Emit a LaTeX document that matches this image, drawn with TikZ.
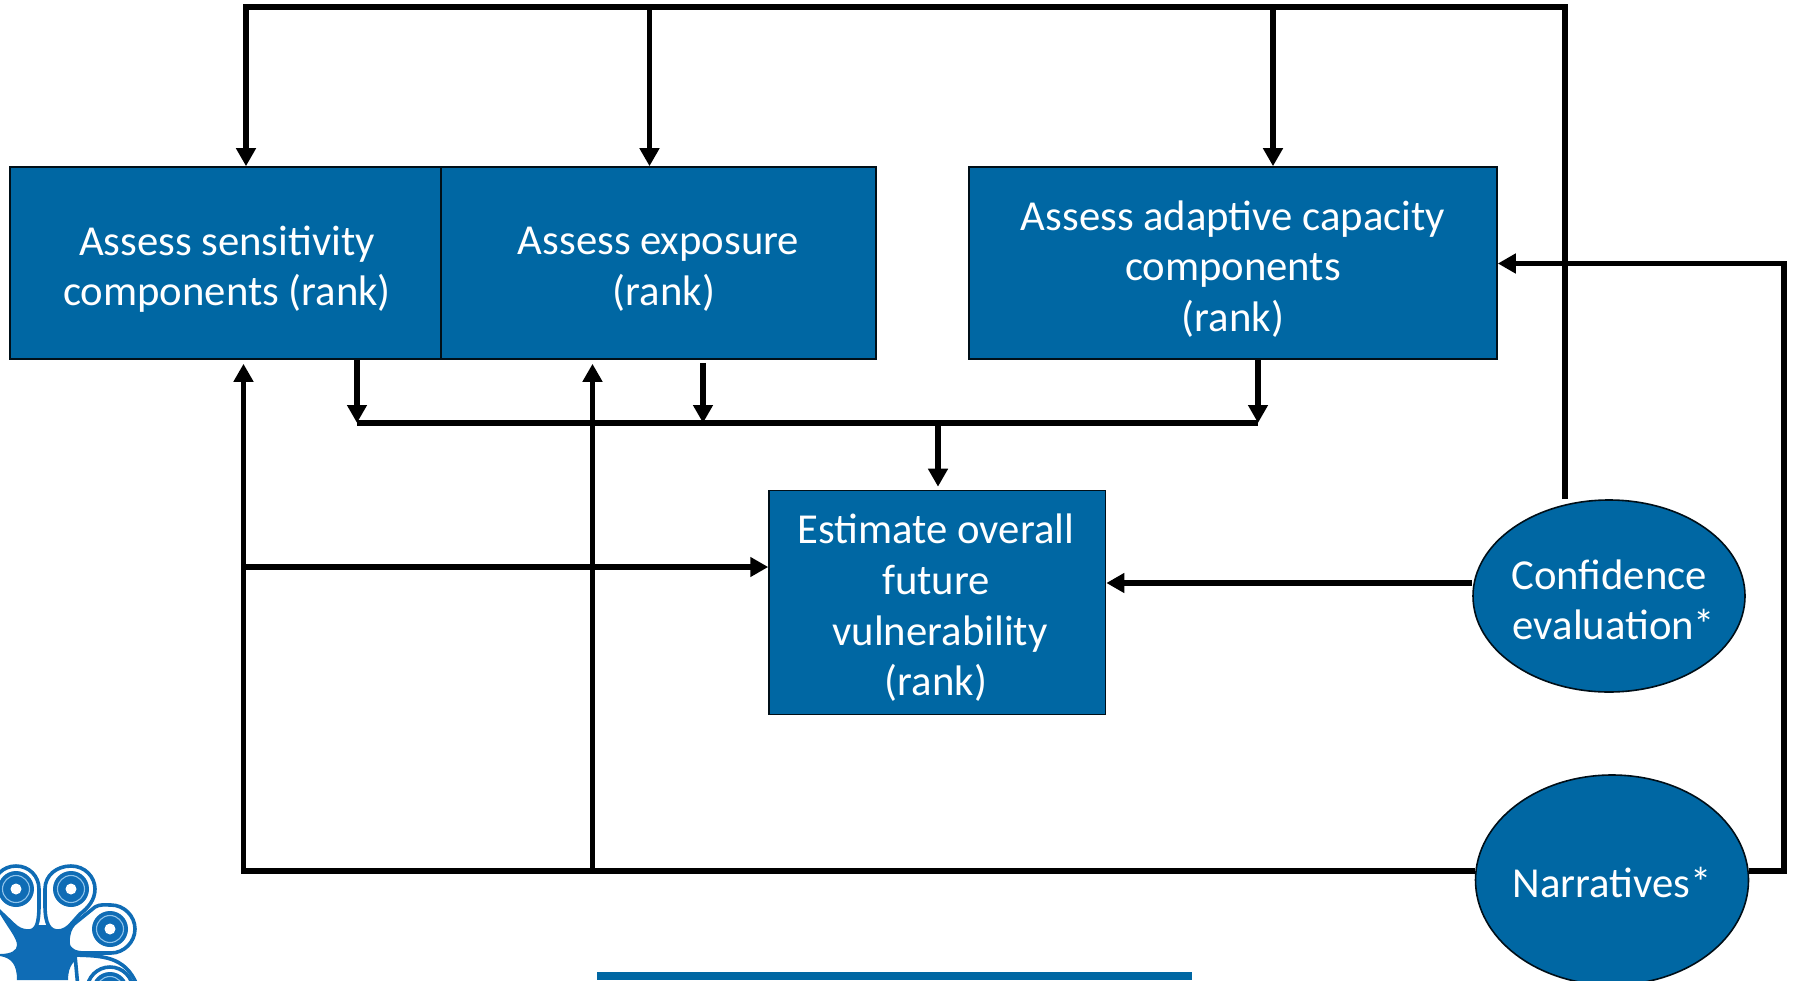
\documentclass[tikz,border=0pt]{standalone}
\usepackage{fontspec}
\setmainfont{Carlito}
\usetikzlibrary{arrows.meta,shapes.geometric}
\definecolor{boxblue}{HTML}{0067A3}
\definecolor{logoblue}{HTML}{0F6CB5}
\definecolor{logolight}{HTML}{8FC3EA}
\tikzset{
  x=1pt,y=-1pt,
  boxbase/.style={draw=black!85!boxblue,line width=1.6pt,fill=boxblue,inner sep=0pt},
  rectbox/.style={boxbase,rectangle},
  ellbox/.style={boxbase,ellipse},
  lbl/.style={text=white,align=center,font=\fontsize{42.7}{50.6}\selectfont},
  wire/.style={line width=5.6pt,draw=black,line cap=butt,line join=miter},
  arr/.style={wire,-{Triangle[length=18pt,width=19pt]}},
  tear/.style={draw=logoblue,line width=3.6pt,fill=white},
}
\newcommand{\logospiral}[2]{%
  \fill[logoblue] (#1,#2) circle[radius=18];
  \draw[logolight,line width=1.1pt] (#1,#2) circle[radius=13.5];
  \fill[white] (#1,#2) circle[radius=5.5];
}
\begin{document}
\begin{tikzpicture}
\path[use as bounding box] (0,0) rectangle (1793,980);
\clip (0,0) rectangle (1793,980);
\fill[white] (0,0) rectangle (1793,980);

% boxes
\node[rectbox,minimum width=431.5pt,minimum height=192pt] (sens) at (226,263) {};
\node[rectbox,minimum width=435pt,minimum height=192pt] (expo) at (658.5,263) {};
\node[rectbox,minimum width=528pt,minimum height=192pt] (adap) at (1233,263) {};
\node[rectbox,minimum width=336.5pt,minimum height=224pt] (esti) at (937.3,602.5) {};
\node[ellbox,minimum width=272pt,minimum height=192pt] (conf) at (1609,596) {};
\node[ellbox,minimum width=273pt,minimum height=210pt] (narr) at (1612,880) {};
% labels
\node[lbl] (senst) at (227,269) {Assess sensitivity\\components (rank)};
\node[lbl] (expot) at (664,269.5) {\hspace*{-11pt}Assess exposure\\(rank)};
\node[lbl] (adapt) at (1233,269) {Assess adaptive capacity\\components\\(rank)};
\node[lbl] (estit) at (936,608) {Estimate overall\\future\\\hspace*{8pt}vulnerability\\(rank)};
\node[lbl] (conft) at (1609,600) {Confidence\\\hspace*{10pt}evaluation*};
\node[lbl] (narrt) at (1612,882) {Narratives*};

% junctions
\coordinate (tl) at (246,7);
\coordinate (tm) at (649.5,7);
\coordinate (ta) at (1273,7);
\coordinate (tr) at (1565,7);
\coordinate (rb) at (1784,871);
\coordinate (rt) at (1784,263.5);
\coordinate (bl) at (243.5,871);
\coordinate (bm) at (592.5,871);
\coordinate (hl) at (357,423);
\coordinate (hm) at (703,423);
\coordinate (hr) at (1258,423);
\coordinate (hc) at (938,423);
\coordinate (bj) at (243.5,567);

% top feedback
\draw[wire] (tr |- conf.north) -- (tr) -- (tl);
\draw[arr] ([yshift=2.8pt]tl) -- (tl |- sens.north);
\draw[arr] (tm) -- (tm |- expo.north);
\draw[arr] (ta) -- (ta |- adap.north);

% narratives to adaptive capacity
\draw[wire] (narr.east |- rb) -- (rb) -- (rt);
\draw[arr] ([xshift=2.8pt]rt) -- (rt -| adap.east);

% bottom line
\draw[wire] (narr.west |- bl) -- (bl);
\draw[arr] (bj) -- (bj -| esti.west);
\draw[arr] ([yshift=-2.8pt]bl) -- ([yshift=-4pt]bl |- sens.south);
\draw[arr] (bm) -- ([yshift=-4pt]bm |- expo.south);

% confidence to estimate
\draw[arr] (conf.west |- 0,583) -- (esti.east |- 0,583);

% into overall estimate
\draw[wire] (hl) -- (hr);
\draw[arr] (hl |- sens.south) -- (hl);
\draw[arr] ([yshift=-3pt]hm |- expo.south) -- (hm);
\draw[arr] (hr |- adap.south) -- (hr);
\draw[arr] (hc) -- ([yshift=3pt]hc |- esti.north);

% bottom bar
\fill[boxblue] (597,972) rectangle (1191.5,980);

% logo
\fill[logoblue] (0,954) .. controls (12,954) and (17,950) .. (17,945) .. controls (17,938) and (8,928) .. (0,914) -- (20,925) -- (45,925) -- (72,925) -- (68,940) .. controls (68,950) and (75,955) .. (85,956) .. controls (75,958) and (68,965) .. (68,980) -- (17,980) .. controls (17,965) and (12,958) .. (0,956) -- cycle;
\draw[tear] (75,955) .. controls (100,956) and (125,955) .. (137,985) -- (137,1010) -- (80,1010) -- cycle;
\draw[tear] (110,990) circle[radius=23];
\logospiral{110}{990}
\draw[tear] (28,931) .. controls (36,931) and (39,925) .. (39,905) -- (39,889) .. controls (39,876) and (29,866) .. (16,866) .. controls (3,866) and (-7,876) .. (-7,889) -- (-7,905) -- (14,925) .. controls (18,929) and (23,931) .. (28,931) -- cycle;
\draw[tear] (58,931) .. controls (50,931) and (45,925) .. (45,905) -- (45,889) .. controls (45,875) and (57,866) .. (71,866) .. controls (85,866) and (95,877) .. (95,889) .. controls (95,900) and (88,908) .. (80,914) -- (72,923) .. controls (68,928) and (63,931) .. (58,931) -- cycle;
\draw[tear] (68,942) .. controls (68,934) and (70,928) .. (74,924) -- (95,907) .. controls (100,904) and (105,905) .. (111,905) .. controls (124,905) and (135,916) .. (135,929) .. controls (135,942) and (124,953) .. (111,953) -- (85,953) .. controls (75,953) and (68,950) .. (68,942) -- cycle;
\logospiral{16}{889}
\logospiral{71}{889}
\logospiral{110}{929}
\end{tikzpicture}
\end{document}
